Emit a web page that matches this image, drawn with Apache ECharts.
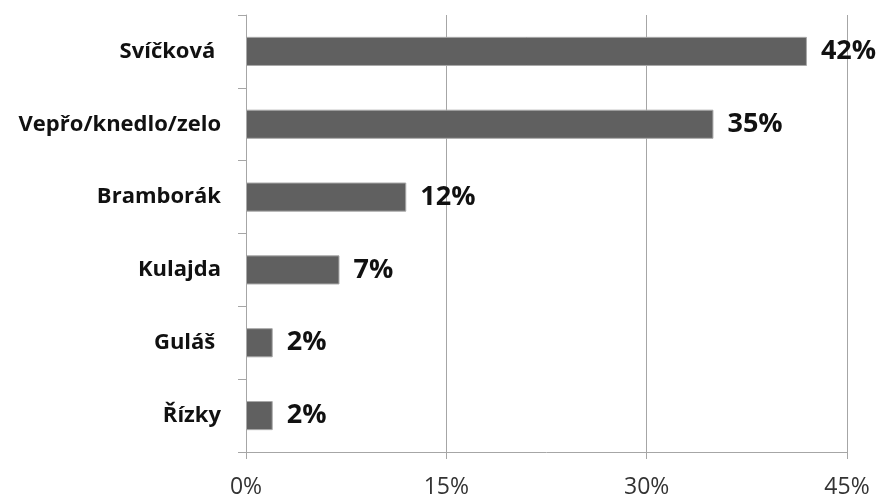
<!DOCTYPE html>
<html><head><meta charset="utf-8">
<script src="https://cdn.jsdelivr.net/npm/echarts@6/dist/echarts.min.js"></script>
<style>html,body{margin:0;padding:0;background:#fff}#c{width:880px;height:499px}</style>
</head><body><div id="c"></div>
<script>
const categories = ["Svíčková ", "Vepřo/knedlo/zelo", "Bramborák", "Kulajda", "Guláš ", "Řízky"];
const values = [42, 35, 12, 7, 2, 2];
const xTicks = [0, 15, 30, 45];

const chart = echarts.init(document.getElementById('c'), null, {renderer: 'canvas'});
chart.setOption({
  animation: false,
  backgroundColor: '#ffffff',
  grid: {left: 246, right: 33, top: 15, bottom: 44, containLabel: false},
  xAxis: {
    type: 'value', min: xTicks[0], max: xTicks[xTicks.length - 1], interval: 15,
    axisLine: {show: true, lineStyle: {color: '#a6a6a6', width: 1}},
    axisTick: {show: true, length: 7, lineStyle: {color: '#a6a6a6'}},
    splitLine: {show: true, lineStyle: {color: '#a6a6a6', width: 1}},
    axisLabel: {formatter: '{value}%', margin: 24, color: '#333333',
      fontFamily: 'Open Sans', fontSize: 23}
  },
  yAxis: {
    type: 'category', data: categories, inverse: true,
    axisLine: {show: true, lineStyle: {color: '#a6a6a6', width: 1}},
    axisTick: {show: true, length: 8, lineStyle: {color: '#a6a6a6'}},
    axisLabel: {margin: 25, color: '#111111', fontFamily: 'Open Sans',
      fontWeight: 'bold', fontSize: 22}
  },
  series: [{
    type: 'bar', data: values, barWidth: '40%',
    itemStyle: {color: '#606060', borderColor: '#a8a8a8', borderWidth: 1},
    label: {show: true, position: 'right', distance: 14, formatter: '{c}%',
      color: '#111', fontFamily: 'Open Sans', fontWeight: 'bold', fontSize: 27}
  }]
});
</script></body></html>
